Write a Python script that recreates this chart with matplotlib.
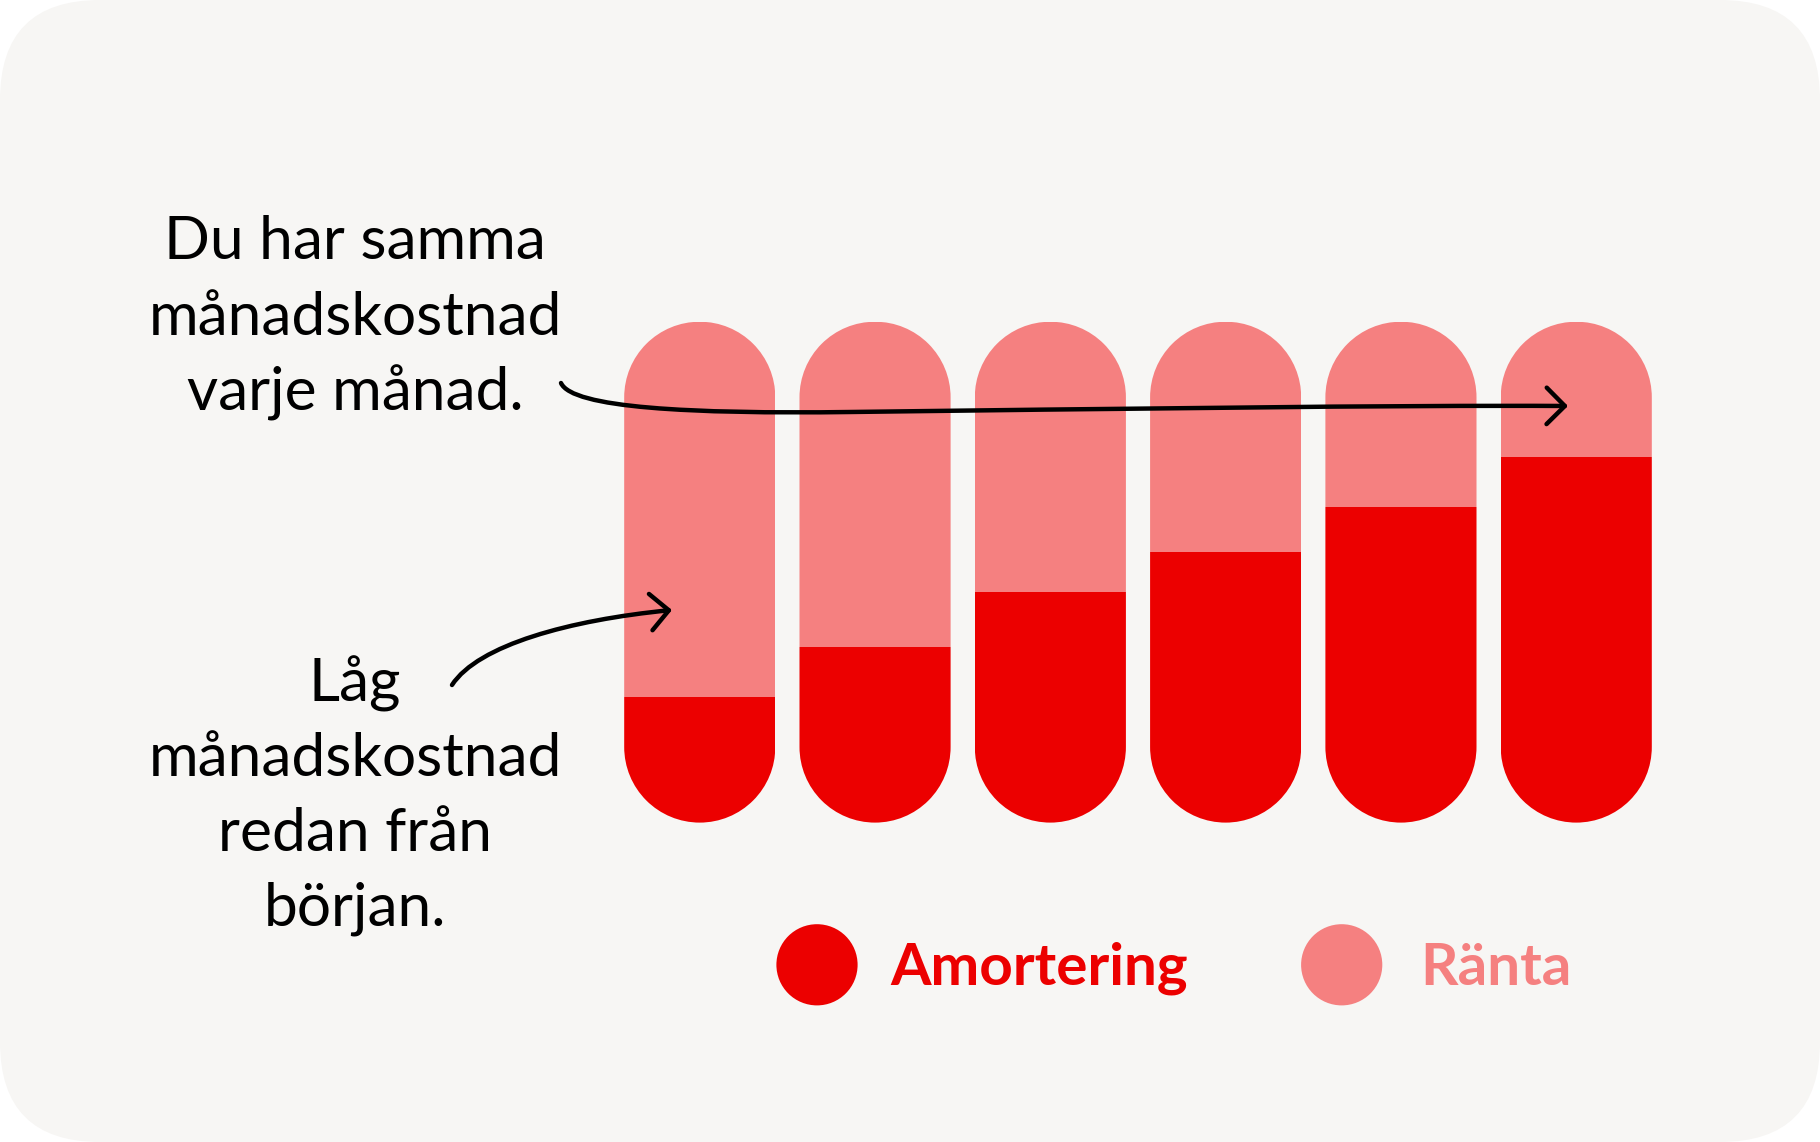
import matplotlib
matplotlib.use("Agg")
import numpy as np
import matplotlib.pyplot as plt
from matplotlib.patches import FancyBboxPatch, Circle, FancyArrowPatch, PathPatch
from matplotlib.path import Path

# monthly cost split, share of the same total (percent)
months = [1, 2, 3, 4, 5, 6]
amortering = [25, 35, 46, 54, 63, 73]
ranta = [75, 65, 54, 46, 37, 27]

top_text = ["Du har samma", "månadskostnad", "varje månad."]
bottom_text = ["Låg", "månadskostnad", "redan från", "början."]
legend_labels = ["Amortering", "Ränta"]

RED = "#EC0000"
PINK = "#F58080"
BG = "#F7F6F4"
FONT = "Lato"

W, H = 1820, 1142
fig = plt.figure(figsize=(W / 100, H / 100), dpi=100)
fig.patch.set_facecolor("white")

# background in pixel coordinates
canvas = fig.add_axes([0, 0, 1, 1])
canvas.set_xlim(0, W)
canvas.set_ylim(H, 0)
canvas.axis("off")
canvas.add_patch(FancyBboxPatch((0, 0), W, H, boxstyle="round,pad=0,rounding_size=100",
                                facecolor=BG, edgecolor="none"))

# bar axes
left_px, right_px = 612.1, 1663.9
bot_px, top_px = 822.6, 321.7
ax = fig.add_axes([left_px / W, (H - bot_px) / H, (right_px - left_px) / W, (bot_px - top_px) / H])
ax.set_xlim(0.5, 6.5)
ax.set_ylim(0, 100)
ax.axis("off")
ax.patch.set_alpha(0)

width = 0.862
rx = width / 2
ry = rx * (100 / (bot_px - top_px)) / (6 / (right_px - left_px))


def capsule(cx, total):
    # pill shape with true semicircle ends, in data units
    lo = Path.arc(180, 360)
    hi = Path.arc(0, 180)
    v_lo = lo.vertices * [rx, ry] + [cx, ry]
    v_hi = hi.vertices * [rx, ry] + [cx, total - ry]
    c_hi = hi.codes.copy()
    c_hi[0] = Path.LINETO
    verts = np.vstack([v_lo, v_hi, v_lo[:1]])
    codes = np.concatenate([lo.codes, c_hi, [Path.CLOSEPOLY]])
    return PathPatch(Path(verts, codes), transform=ax.transData,
                     facecolor="none", edgecolor="none")


b1 = ax.bar(months, amortering, width=width, color=RED, linewidth=0)
b2 = ax.bar(months, ranta, bottom=amortering, width=width, color=PINK, linewidth=0)
for i, m in enumerate(months):
    clip = capsule(m, amortering[i] + ranta[i])
    b1[i].set_clip_path(clip)
    b2[i].set_clip_path(clip)

# overlay for notes, arrows and legend
top = fig.add_axes([0, 0, 1, 1])
top.set_xlim(0, W)
top.set_ylim(H, 0)
top.axis("off")
top.patch.set_alpha(0)

for k, line in enumerate(top_text):
    top.text(355, 259.3 + k * 75.4, line, ha="center", va="baseline",
             fontsize=43.5, family=FONT, color="black")
for k, line in enumerate(bottom_text):
    top.text(355, 701 + k * 75, line, ha="center", va="baseline",
             fontsize=43.5, family=FONT, color="black")

# hand drawn arrows
top_path = Path([(561, 383), (572, 408), (690, 414), (850, 412),
                 (1100, 409), (1400, 405), (1568, 406)],
                [Path.MOVETO, Path.CURVE4, Path.CURVE4, Path.CURVE4,
                 Path.CURVE4, Path.CURVE4, Path.CURVE4])
bot_path = Path([(452, 685), (478, 645), (570, 620), (672, 610)],
                [Path.MOVETO, Path.CURVE4, Path.CURVE4, Path.CURVE4])
for p in (top_path, bot_path):
    top.add_patch(FancyArrowPatch(path=p, arrowstyle="->,head_length=1.25,head_width=1.25",
                                  mutation_scale=10.5, color="black", linewidth=3.2,
                                  capstyle="round", joinstyle="round"))

# legend
top.add_patch(Circle((817, 964.8), 40.6, facecolor=RED, edgecolor="none"))
top.text(890, 984.8, legend_labels[0], ha="left", va="baseline", fontsize=42,
         family=FONT, fontweight="bold", color=RED)
top.add_patch(Circle((1341.7, 964.8), 40.6, facecolor=PINK, edgecolor="none"))
top.text(1420, 984.8, legend_labels[1], ha="left", va="baseline", fontsize=42,
         family=FONT, fontweight="bold", color=PINK)

fig.savefig("out.png", dpi=100, facecolor=fig.get_facecolor())
